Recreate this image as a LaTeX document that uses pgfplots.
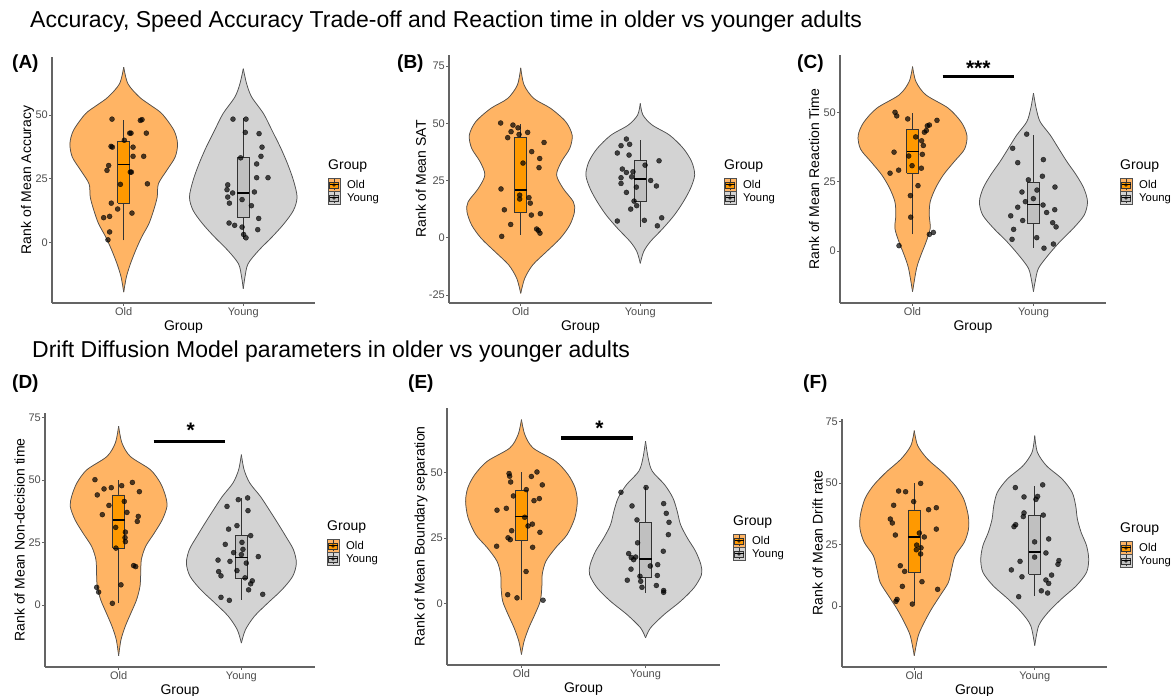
\documentclass[border=0pt]{standalone}
\usepackage{fontspec}
\setmainfont{Liberation Sans}
\setsansfont{Liberation Sans}
\usepackage{pgfplots}
\usepackage{pgfplotstable}
\pgfplotsset{compat=1.18}

\definecolor{violinold}{RGB}{255,180,100}
\definecolor{boxold}{RGB}{255,153,0}
\definecolor{violinyoung}{RGB}{211,211,211}
\definecolor{boxyoung}{RGB}{192,192,192}
\definecolor{vline}{RGB}{80,80,80}
\definecolor{boxline}{RGB}{51,51,51}
\definecolor{axisgrey}{RGB}{100,100,100}
\definecolor{tickgrey}{RGB}{77,77,77}

\newcommand{\titlefont}{\fontsize{23}{26}\selectfont}
\newcommand{\panelfont}{\fontsize{19}{22}\selectfont\bfseries}
\newcommand{\axisfont}{\fontsize{14}{16}\selectfont}
\newcommand{\tickfont}{\fontsize{11}{13}\selectfont}
\newcommand{\legfont}{\fontsize{11.3}{13}\selectfont}
\newcommand{\starfont}{\fontsize{21}{24}\selectfont\bfseries}

% violin outlines: rank value y, half width w (x units)
\pgfplotstableread{
y w
-19.5 0
-13.6 0.022
-8.4 0.056
-3.1 0.10
2.1 0.15
7.3 0.21
12.6 0.25
17.8 0.28
23.0 0.29
28.3 0.36
33.5 0.43
38.7 0.45
44.0 0.42
50.5 0.32
54.0 0.22
57.1 0.13
62.3 0.035
68.8 0
}\vAo
\pgfplotstableread{
y w
-18.2 0
-13.6 0.014
-8.4 0.04
-3.1 0.13
2.1 0.24
7.3 0.34
12.6 0.42
17.8 0.45
24.3 0.42
30.9 0.37
37.4 0.31
44.0 0.24
50.5 0.17
57.1 0.07
62.3 0.028
68.2 0
}\vAy
\pgfplotstableread{
y w
-24.3 0
-17.8 0.033
-11.9 0.10
-6.1 0.215
-0.3 0.33
5.5 0.41
11.4 0.45
15.7 0.44
21.5 0.355
27.4 0.30
33.2 0.34
39.0 0.41
44.8 0.43
50.7 0.376
56.5 0.25
60.8 0.11
66.7 0.028
74.2 0
}\vBo
\pgfplotstableread{
y w
-11.2 0
-6.1 0.028
-1.7 0.084
4.1 0.19
9.9 0.285
15.7 0.36
21.5 0.42
27.4 0.455
33.2 0.43
39.0 0.36
44.8 0.245
49.2 0.10
53.6 0.022
58.7 0
}\vBy
\pgfplotstableread{
y w
-14.7 0
-6.3 0.033
-1.4 0.07
3.4 0.113
8.2 0.146
13.0 0.138
17.8 0.146
22.7 0.19
27.5 0.255
32.3 0.345
36.8 0.43
41.6 0.45
46.4 0.405
51.6 0.295
56.4 0.11
61.2 0.028
66.6 0
}\vCo
\pgfplotstableread{
y w
-14.7 0
-11.1 0.014
-6.3 0.041
-1.4 0.124
3.4 0.22
8.2 0.33
13.0 0.42
17.8 0.447
22.7 0.416
27.5 0.353
32.3 0.276
37.1 0.207
41.9 0.138
46.7 0.055
51.6 0.022
57.0 0
}\vCy
\pgfplotstableread{
y w
-20.3 0
-13.9 0.019
-8.5 0.054
-3.2 0.10
2.1 0.146
7.5 0.174
12.8 0.18
18.2 0.185
23.5 0.22
28.8 0.29
34.2 0.356
39.5 0.394
43.5 0.383
48.9 0.34
54.2 0.258
59.5 0.095
64.9 0.027
71.6 0
}\vDo
\pgfplotstableread{
y w
-15.2 0
-9.9 0.033
-4.5 0.106
0.8 0.215
6.1 0.33
11.5 0.418
16.8 0.448
22.2 0.424
27.5 0.362
32.8 0.296
38.2 0.226
43.5 0.155
48.9 0.068
54.2 0.022
60.2 0
}\vDy
\pgfplotstableread{
y w
-19.2 0
-14.2 0.021
-9.1 0.059
-4.1 0.107
1.0 0.151
6.1 0.164
11.1 0.167
16.2 0.197
21.3 0.275
26.3 0.368
32.7 0.43
39.0 0.45
44.1 0.432
49.1 0.376
54.2 0.275
59.2 0.094
64.3 0.027
70.0 0
}\vEo
\pgfplotstableread{
y w
-12.9 0
-9.1 0.04
-4.1 0.148
1.0 0.282
6.1 0.39
11.1 0.451
14.9 0.446
20.0 0.403
25.1 0.336
30.1 0.282
35.2 0.255
40.3 0.22
45.3 0.153
50.4 0.054
55.4 0.021
61.8 0
}\vEy
\pgfplotstableread{
y w
-20.2 0
-12.1 0.033
-6.6 0.083
-1.2 0.143
4.2 0.214
9.6 0.283
15.1 0.31
20.5 0.34
25.9 0.415
31.3 0.45
36.8 0.448
43.6 0.41
49.0 0.34
54.4 0.235
59.8 0.11
65.3 0.028
71.4 0
}\vFo
\pgfplotstableread{
y w
-16.1 0
-8.0 0.033
-2.6 0.11
2.8 0.22
8.3 0.346
13.7 0.43
19.1 0.448
24.6 0.43
30.0 0.385
35.4 0.354
40.8 0.34
46.3 0.31
51.7 0.227
57.1 0.097
62.6 0.022
69.3 0
}\vFy

\pgfplotsset{
  panel/.style={
    scale only axis, anchor=south west,
    xmin=0.4, xmax=2.6,
    xtick={1,2}, xticklabels={Old,Young},
    axis x line=bottom, axis y line=left,
    axis line style={-, draw=axisgrey, line width=1.1pt},
    tick align=outside, major tick length=3pt,
    tick style={draw=axisgrey, line width=0.9pt},
    tick label style={font=\tickfont, text=tickgrey},
    xticklabel style={inner sep=1.5pt},
    yticklabel style={inner sep=1pt},
    /pgf/number format/assume math mode=true,
    xlabel={Group},
    label style={font=\axisfont},
    xlabel style={at={(axis description cs:0.5,0)}, anchor=center, yshift=-24pt},
  },
  vio/.style={draw=vline, line width=0.75pt, smooth},
  pts/.style={only marks, mark=*, mark size=2.5pt, mark options={draw=none, fill=black, opacity=0.7}},
}

% one violin: table, centre, fill colour (each half is filled and closes along the centre line)
\newcommand{\violin}[3]{%
  \addplot[fill=#3, draw=#3, line width=0.4pt, smooth] table[x expr=#2+\thisrow{w}, y=y] {#1};
  \addplot[fill=#3, draw=#3, line width=0.4pt, smooth] table[x expr=#2-\thisrow{w}, y=y] {#1};
  \addplot[draw=#3, line width=1.2pt] table[x expr=#2, y=y] {#1};
  \addplot[vio] table[x expr=#2+\thisrow{w}, y=y] {#1};
  \addplot[vio] table[x expr=#2-\thisrow{w}, y=y] {#1};
}
% boxes: lower whisker, lower quartile, median, upper quartile, upper whisker
\newcommand{\oldbox}[5]{%
  \addplot[boxline, line width=0.6pt] coordinates {(1,#1) (1,#2)};
  \addplot[boxline, line width=0.6pt] coordinates {(1,#4) (1,#5)};
  \addplot[fill=boxold, draw=boxline, line width=0.6pt] coordinates {(0.95,#2) (1.05,#2) (1.05,#4) (0.95,#4) (0.95,#2)};
  \addplot[black, line width=1.3pt] coordinates {(0.95,#3) (1.05,#3)};
}
\newcommand{\youngbox}[5]{%
  \addplot[boxline, line width=0.6pt] coordinates {(2,#1) (2,#2)};
  \addplot[boxline, line width=0.6pt] coordinates {(2,#4) (2,#5)};
  \addplot[fill=boxyoung, draw=boxline, line width=0.6pt] coordinates {(1.95,#2) (2.05,#2) (2.05,#4) (1.95,#4) (1.95,#2)};
  \addplot[black, line width=1.3pt] coordinates {(1.95,#3) (2.05,#3)};
}

\newcommand{\legkey}[5]{%
  \begin{scope}[shift={({#1pt+6pt},{#2pt})}]
    \filldraw[fill=#3, draw=vline, line width=0.5pt] (-6pt,-6.5pt) rectangle (6pt,6.5pt);
    \draw[boxline, line width=0.4pt] (0,-5.5pt) -- (0,5.5pt);
    \filldraw[fill=#4, draw=boxline, line width=0.5pt] (-4.5pt,-3.2pt) rectangle (4.5pt,3.2pt);
    \draw[black, line width=1pt] (-4.5pt,0) -- (4.5pt,0);
    \fill[black, opacity=0.7] (0,0) circle (1.9pt);
    \node[anchor=base west, inner sep=0pt, font=\legfont] at (13pt,-4pt) {#5};
  \end{scope}
}
\newcommand{\grouplegend}[2]{%
  \pgfmathsetmacro{\ty}{692-#2}
  \node[anchor=base west, inner sep=0pt, font=\axisfont] at (#1pt,\ty pt) {Group};
  \pgfmathsetmacro{\ka}{696-#2-19}
  \pgfmathsetmacro{\kb}{696-#2-32}
  \legkey{#1}{\ka}{violinold}{boxold}{Old}
  \legkey{#1}{\kb}{violinyoung}{boxyoung}{Young}
}

\begin{document}
\begin{tikzpicture}

\node[anchor=base west, inner sep=0pt, font=\titlefont] at (30pt,668pt)
  {Accuracy, Speed Accuracy Trade-off and Reaction time in older vs younger adults};
\node[anchor=base west, inner sep=0pt, font=\titlefont] at (32pt,338pt)
  {Drift Diffusion Model parameters in older vs younger adults};

% (A)
\begin{axis}[panel, at={(52pt,393pt)}, width=263pt, height=246pt,
  ymin=-23.8, ymax=72.8, ytick={0,25,50},
  ylabel={Rank of Mean Accuracy},
  ylabel style={at={(axis description cs:-0.093,0.5)}, anchor=center}]
\violin{\vAo}{1}{violinold}
\violin{\vAy}{2}{violinyoung}
\oldbox{0.8}{15.4}{30.5}{39.8}{48.2}
\youngbox{1.4}{9.7}{19.4}{33.5}{48.8}
\addplot[pts] coordinates {
(0.902,48.4) (1.139,47.9) (1.153,48.2) (1.061,42.9) (1.050,42.9) (1.189,42.9)
(1.005,40.1) (0.894,37.7) (0.905,37.4) (1.078,37.4) (1.078,33.8) (1.167,33.8)
(0.874,30.2) (0.860,28.3) (1.055,27.6) (1.064,27.6) (0.972,22.8) (1.198,23.0)
(0.896,15.4) (0.949,13.1) (1.069,11.5) (0.832,9.7) (0.882,10.2) (0.882,4.1) (0.868,1.0)};
\addplot[pts] coordinates {
(1.914,48.4) (2.023,48.4) (2.017,43.2) (2.132,42.7) (2.157,37.4) (2.148,33.8)
(1.978,33.2) (2.112,30.8) (2.112,25.4) (2.207,25.4) (1.870,22.6) (1.864,20.7)
(1.911,19.4) (1.870,17.8) (1.884,15.4) (1.990,16.8) (2.093,19.8) (2.068,14.4)
(2.129,9.4) (1.881,7.6) (1.928,6.7) (1.990,6.0) (2.121,5.0) (2.003,3.1) (2.023,1.8)};
\end{axis}

% (B)
\begin{axis}[panel, at={(449pt,393pt)}, width=263pt, height=248pt,
  ymin=-28.5, ymax=79.8, ytick={-25,0,25,50,75},
  ylabel={Rank of Mean SAT},
  ylabel style={at={(axis description cs:-0.1065,0.5)}, anchor=center}]
\violin{\vBo}{1}{violinold}
\violin{\vBy}{2}{violinyoung}
\oldbox{1.2}{10.9}{20.8}{43.7}{49.5}
\youngbox{4.8}{15.7}{25.6}{33.8}{42.6}
\addplot[pts] coordinates {
(0.832,50.1) (0.935,49.2) (0.977,48.0) (0.919,46.3) (0.891,43.7) (0.986,45.1)
(1.058,46.0) (1.195,41.6) (1.092,37.6) (1.159,34.6) (1.019,32.6) (1.153,30.6)
(0.835,21.3) (0.991,18.6) (0.991,16.9) (1.069,17.5) (1.080,15.1) (0.863,12.2)
(1.089,9.9) (1.164,10.5) (0.916,5.8) (1.133,3.8) (1.147,3.2) (1.161,2.0) (0.841,0.6)};
\addplot[pts] coordinates {
(1.884,43.1) (1.839,40.2) (1.911,40.8) (1.808,37.0) (1.906,36.1) (2.157,33.6)
(1.850,30.0) (1.884,28.5) (1.939,28.8) (1.839,26.2) (1.928,26.6) (2.040,31.7)
(1.839,23.7) (1.967,22.1) (2.087,25.0) (2.135,22.6) (1.884,19.8) (1.948,16.0)
(1.970,14.0) (1.920,12.5) (1.808,7.3) (2.034,7.6) (2.179,8.7) (2.143,5.2)};
\end{axis}

% (C)
\begin{axis}[panel, at={(840pt,393pt)}, width=266pt, height=248pt,
  ymin=-18.8, ymax=70.8, ytick={0,25,50},
  ylabel={Rank of Mean Reaction Time},
  ylabel style={at={(axis description cs:-0.0977,0.5)}, anchor=center}]
\violin{\vCo}{1}{violinold}
\violin{\vCy}{2}{violinyoung}
\oldbox{6.0}{28.0}{35.9}{43.9}{49.8}
\youngbox{1.2}{9.9}{16.9}{24.8}{41.9}
\addplot[pts] coordinates {
(0.855,50.1) (0.869,48.8) (0.960,47.7) (1.202,47.2) (1.139,45.5) (1.122,45.2)
(1.114,43.5) (1.098,42.9) (1.026,41.2) (1.075,39.8) (1.089,38.1) (0.847,35.7)
(0.968,34.3) (1.081,34.9) (0.996,30.8) (0.885,29.2) (0.814,28.1) (1.073,29.9)
(1.045,23.6) (0.982,20.0) (0.985,12.2) (1.139,6.0) (1.172,6.7) (0.888,1.9)};
\addplot[pts] coordinates {
(1.944,42.2) (1.828,37.1) (1.870,31.9) (2.082,33.0) (2.074,27.0) (1.958,25.7)
(2.029,22.0) (1.905,21.3) (2.178,23.1) (1.999,18.9) (1.933,17.8) (2.079,16.6)
(1.870,15.8) (2.109,13.9) (2.176,14.9) (1.812,12.7) (1.911,11.0) (2.159,10.2)
(2.187,8.7) (1.836,7.8) (2.027,4.8) (1.823,4.2) (2.087,1.0) (2.165,2.5)};
\draw[black, line width=3.2pt] (axis cs:1.249,62.9) -- (axis cs:1.839,62.9);
\node[font=\starfont, yshift=-4pt] at (axis cs:1.544,67.5) {***};
\end{axis}

% (D)
\begin{axis}[panel, at={(45pt,29pt)}, width=270pt, height=254pt,
  ymin=-24.8, ymax=76.9, ytick={0,25,50,75},
  ylabel={Rank of Mean Non-decision time},
  ylabel style={at={(axis description cs:-0.0944,0.5)}, anchor=center}]
\violin{\vDo}{1}{violinold}
\violin{\vDy}{2}{violinyoung}
\oldbox{0.8}{22.8}{34.0}{44.1}{49.9}
\youngbox{2.1}{10.9}{19.0}{27.8}{42.9}
\addplot[pts] coordinates {
(0.807,50.2) (0.881,46.5) (0.940,47.0) (1.025,47.8) (1.112,49.1) (0.826,44.1)
(1.169,45.4) (1.046,41.5) (0.921,39.9) (0.867,36.2) (1.068,37.1) (1.160,35.5)
(1.152,33.5) (0.976,31.1) (1.055,29.2) (1.052,27.0) (1.055,25.4) (0.978,22.8)
(1.122,15.8) (1.139,15.4) (0.821,7.1) (0.837,5.2) (1.019,8.1) (0.949,0.7)};
\addplot[pts] coordinates {
(1.975,42.2) (2.051,42.9) (1.883,39.5) (2.054,37.8) (1.896,30.4) (1.964,31.8)
(2.076,27.8) (1.869,24.3) (2.005,25.1) (2.013,22.3) (1.937,21.0) (2.000,20.2)
(1.810,18.0) (2.138,19.4) (1.907,17.5) (1.964,13.8) (2.040,16.8) (1.815,13.4)
(1.834,11.7) (2.030,10.9) (2.089,9.7) (2.076,8.5) (2.059,6.1) (2.174,4.3)
(1.834,3.1) (1.902,1.9)};
\draw[black, line width=3.2pt] (axis cs:1.285,65.4) -- (axis cs:1.867,65.4);
\node[font=\starfont, yshift=-4pt] at (axis cs:1.587,71.6) {*};
\end{axis}

% (E)
\begin{axis}[panel, at={(447pt,31pt)}, width=273pt, height=257pt,
  ymin=-23.2, ymax=74.4, ytick={0,25,50},
  ylabel={Rank of Mean Boundary separation},
  ylabel style={at={(axis description cs:-0.0952,0.5)}, anchor=center}]
\violin{\vEo}{1}{violinold}
\violin{\vEy}{2}{violinyoung}
\oldbox{1.3}{24.2}{33.2}{43.0}{50.1}
\youngbox{4.2}{10.1}{17.1}{31.0}{44.3}
\addplot[pts] coordinates {
(0.900,49.5) (0.905,48.5) (1.125,50.1) (1.080,48.4) (1.168,45.2) (0.913,46.3)
(1.039,43.4) (0.935,41.0) (1.144,40.0) (1.101,39.2) (0.803,35.6) (0.878,36.3)
(1.026,32.9) (1.053,29.6) (1.088,30.3) (1.149,27.2) (0.921,27.8) (0.892,25.1)
(0.910,24.4) (0.800,21.9) (1.090,21.5) (1.037,12.3) (0.889,3.5) (0.964,2.3) (1.174,1.4)};
\addplot[pts] coordinates {
(1.802,42.4) (2.004,44.2) (1.891,37.2) (2.146,38.1) (1.931,31.9) (2.167,34.4)
(2.189,31.0) (2.184,26.3) (1.936,23.2) (2.143,20.0) (1.864,19.1) (1.885,17.6)
(1.904,16.8) (1.920,17.8) (1.883,13.2) (2.098,14.9) (2.038,14.4) (1.853,9.0)
(1.955,10.5) (1.961,8.6) (2.095,10.8) (1.971,6.3) (2.087,7.0) (2.146,5.1) (2.146,4.4)};
\draw[black, line width=3.2pt] (axis cs:1.319,63.0) -- (axis cs:1.896,63.0);
\node[font=\starfont, yshift=-4pt] at (axis cs:1.628,68.4) {*};
\end{axis}

% (F)
\begin{axis}[panel, at={(842pt,29pt)}, width=265pt, height=248pt,
  ymin=-24.8, ymax=76.1, ytick={0,25,50,75},
  ylabel={Rank of Mean Drift rate},
  ylabel style={at={(axis description cs:-0.0925,0.5)}, anchor=center}]
\violin{\vFo}{1}{violinold}
\violin{\vFy}{2}{violinyoung}
\oldbox{1.1}{13.8}{28.1}{39.1}{49.9}
\youngbox{4.1}{12.9}{22.0}{37.0}{49.0}
\addplot[pts] coordinates {
(1.053,49.9) (0.870,46.8) (0.928,46.5) (0.995,42.5) (0.829,41.0) (1.119,39.2)
(1.183,40.0) (0.801,35.4) (0.818,33.8) (1.183,31.3) (0.843,28.9) (1.042,29.7)
(1.083,28.1) (1.020,24.8) (1.056,23.7) (1.017,22.9) (1.053,21.2) (0.884,16.4)
(0.920,14.1) (0.901,8.0) (1.064,9.9) (1.194,6.8) (0.857,2.7) (0.848,1.9) (0.984,0.8)};
\addplot[pts] coordinates {
(1.839,48.2) (2.066,49.3) (1.911,44.4) (2.010,43.4) (2.024,44.6) (1.911,37.9)
(1.905,36.4) (2.071,37.0) (1.842,33.1) (1.828,32.3) (2.116,27.3) (1.999,26.1)
(1.999,19.9) (2.093,21.6) (2.201,18.5) (2.193,17.0) (1.878,18.2) (1.806,14.7)
(1.894,11.9) (2.140,12.6) (2.093,10.6) (2.116,9.2) (2.055,6.2) (2.107,5.3) (1.867,3.8)};
\end{axis}

% panel letters
\node[anchor=base west, inner sep=0pt, font=\panelfont] at (12pt,627pt) {(A)};
\node[anchor=base west, inner sep=0pt, font=\panelfont] at (397pt,627pt) {(B)};
\node[anchor=base west, inner sep=0pt, font=\panelfont] at (797pt,627pt) {(C)};
\node[anchor=base west, inner sep=0pt, font=\panelfont] at (12pt,307pt) {(D)};
\node[anchor=base west, inner sep=0pt, font=\panelfont] at (408pt,307pt) {(E)};
\node[anchor=base west, inner sep=0pt, font=\panelfont] at (803pt,307pt) {(F)};

% legends
\grouplegend{328}{166}
\grouplegend{724}{166}
\grouplegend{1120}{166}
\grouplegend{327}{527}
\grouplegend{733}{522}
\grouplegend{1120}{529}

\pgfresetboundingbox
\path[use as bounding box] (0,0) rectangle (1173pt,696pt);
\end{tikzpicture}
\end{document}
